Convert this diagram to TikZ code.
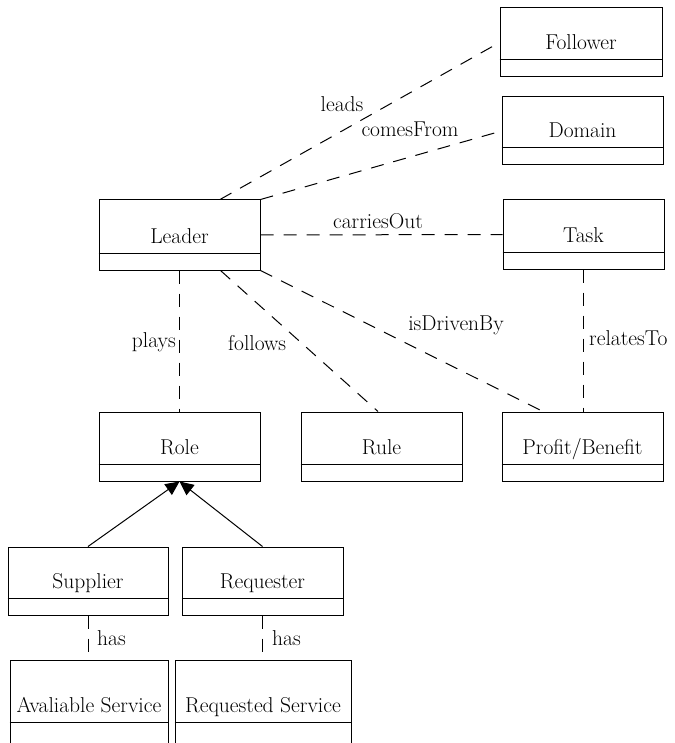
\documentclass[tikz,border=0pt]{standalone}
\usepackage{fontspec}
\usetikzlibrary{arrows.meta,calc}
\tikzset{
  clsbox/.style={draw=black, line width=1pt, inner sep=0pt, fill=none},
  clsline/.style={draw=black, line width=1pt},
  clstext/.style={anchor=base, inner sep=0pt, font=\rmfamily\fontsize{21.5}{25}\selectfont},
  assoc/.style={draw=black, line width=1pt, dash pattern=on 13pt off 10pt},
  lbl/.style={anchor=base, inner sep=0pt, font=\rmfamily\fontsize{21.5}{25}\selectfont},
  inherit/.style={draw=black, line width=1pt, -{Triangle[length=14pt,width=13pt]}},
}
\newcommand{\umlcls}[7]{%
  \node[clsbox, minimum width={(#4-#2)*1pt}, minimum height={(#5-#3)*1pt}] (#1) at ({(#2+#4)/2},{(#3+#5)/2}) {};
  \draw[clsline] (#1.west |- 0,#6) -- (#1.east |- 0,#6);
  \node[clstext] (#1-name) at ({(#2+#4)/2},{#6-10}) {#7};
}
\begin{document}
\begin{tikzpicture}[x=1pt,y=-1pt]
\useasboundingbox (0,0) rectangle (674,743);
\clip (0,0) rectangle (674,743);
\fill[white] (0,0) rectangle (674,743);
\umlcls{follower}{500}{8}{662}{77}{60}{Follower}
\umlcls{domain}{502}{97}{663}{165}{148}{Domain}
\umlcls{leader}{99}{200}{260}{270}{253}{Leader}
\umlcls{task}{503}{200}{664}{269}{252}{Task}
\umlcls{role}{99}{412}{260}{481}{464}{Role}
\umlcls{rule}{301}{412}{462}{481}{464}{Rule}
\umlcls{profit}{502}{412}{663}{481}{464}{Profit/Benefit}
\umlcls{supplier}{8}{547}{168}{615}{598}{Supplier}
\umlcls{requester}{182}{547}{343}{615}{598}{Requester}
\umlcls{avail}{10}{660}{168}{770}{722}{Avaliable Service}
\umlcls{reqserv}{175}{660}{351}{770}{722}{Requested Service}

% associations
\draw[assoc] ([xshift=40.5pt]leader.north) -- (follower.west);
\draw[assoc] (leader.north east) -- (domain.west);
\draw[assoc] (leader.east) -- (task.west);
\draw[assoc] (leader.south) -- (role.north);
\draw[assoc] ([xshift=41pt]leader.south) -- ([xshift=-3.5pt]rule.north);
\draw[assoc] (leader.south east) -- ([xshift=-39.5pt]profit.north);
\draw[assoc] (task.south) -- (task.south |- profit.north);
\draw[assoc] (supplier.south) -- (supplier.south |- avail.north);
\draw[assoc] (requester.south) -- (requester.south |- reqserv.north);

% generalisations
\draw[inherit] (supplier.north) -- (role.south);
\draw[inherit] (requester.north) -- (role.south);

% labels
\node[lbl] (l-leads) at (342,112) {leads};
\node[lbl] (l-comes) at (410,137) {comesFrom};
\node[lbl] (l-carries) at (378,228) {carriesOut};
\node[lbl, anchor=base east] (l-plays) at (176,347) {plays};
\node[lbl, anchor=base west] (l-follows) at (228,350) {follows};
\node[lbl] (l-driven) at (456,330) {isDrivenBy};
\node[lbl, anchor=base west] (l-relates) at (589,345) {relatesTo};
\node[lbl, anchor=base west] (l-has1) at (97,645) {has};
\node[lbl, anchor=base west] (l-has2) at (272,645) {has};
\end{tikzpicture}
\end{document}
